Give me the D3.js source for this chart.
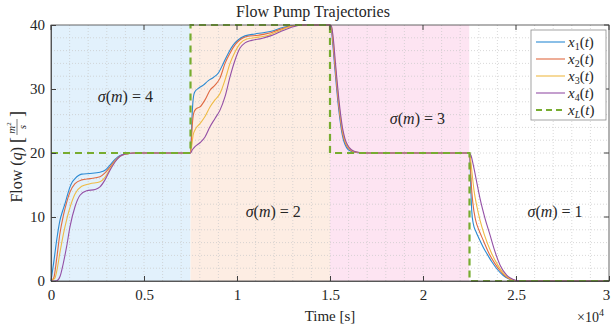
<!DOCTYPE html>
<html>
<head>
<meta charset="utf-8">
<script src="https://cdn.jsdelivr.net/npm/d3@7"></script>
<style>
  body { margin: 0; background: #fff; }
  svg text { font-family: "Liberation Serif", "DejaVu Serif", serif; fill: #262626; }
</style>
</head>
<body>
<div id="chart"></div>
<script>
// time in seconds, flow in m^2/s
const x1Pts = [[0,0],[150,3],[306,6.4],[484,9.5],[620,10.9],[753,12.1],[890,13.5],[1022,14.7],[1150,15.5],[1290,16.0],[1649,16.7],[2097,16.8],[2634,17.0],[2903,17.3],[3172,18.1],[3441,19.0],[3710,19.6],[4068,19.85],[4500,20],
  [7500,20],[7530,21.5],[7580,25.5],[7640,28.3],[7720,29.5],[7920,30.1],[8190,30.6],[8459,31.3],[8728,31.8],[8997,32.5],[9265,34.0],[9534,35.6],[9803,36.9],[10072,37.7],[10430,38.3],[10968,38.6],[11415,38.8],[11952,39.1],[12312,39.5],[12849,39.85],[13300,40],
  [15000,40],[15050,39.8],[15150,37],[15250,33.5],[15350,30.3],[15450,27.3],[15550,24.9],[15650,23.0],[15750,21.8],[15900,20.8],[16100,20.3],[16400,20.1],[16800,20],
  [22500,20],[22530,18.5],[22570,14.5],[22620,11],[22700,9.0],[22850,7.7],[23050,6.4],[23250,5.2],[23450,4.2],[23700,3.0],[24000,1.8],[24300,0.9],[24600,0.35],[24900,0.08],[25200,0],[30000,0]];

const x2Pts = [[0,0],[150,0.5],[306,3.5],[484,7.5],[663,10.2],[842,12.3],[1022,13.9],[1290,15.2],[1649,15.8],[2097,16.0],[2634,16.3],[2903,16.9],[3172,17.8],[3441,18.8],[3710,19.5],[4068,19.85],[4500,20],
  [7500,20],[7540,21.5],[7600,24.5],[7680,26.3],[7800,26.9],[8011,27.2],[8280,28.3],[8548,29.8],[8817,30.6],[9086,31.7],[9355,34.0],[9624,35.6],[9892,36.9],[10161,37.7],[10520,38.2],[11147,38.4],[11700,38.7],[12200,39.2],[12800,39.75],[13400,40],
  [15000,40],[15060,39.8],[15160,37.3],[15260,33.9],[15360,30.7],[15460,27.7],[15560,25.3],[15660,23.3],[15770,22.0],[15920,21.0],[16120,20.4],[16420,20.12],[16850,20],
  [22500,20],[22540,18.5],[22600,15],[22680,12.2],[22830,9.5],[23000,8.0],[23250,6.3],[23550,4.3],[23850,2.8],[24150,1.6],[24450,0.7],[24750,0.2],[25100,0],[30000,0]];

const x3Pts = [[0,0],[200,0.4],[306,1.5],[484,4.5],[663,7.3],[842,9.6],[1022,11.5],[1290,13.6],[1649,14.8],[2097,15.2],[2634,15.5],[2903,16.2],[3172,17.5],[3441,18.7],[3710,19.5],[4068,19.85],[4500,20],
  [7500,20],[7560,21],[7640,22.8],[7742,23.6],[8011,24.6],[8280,25.7],[8548,27.2],[8817,28.3],[9086,29.3],[9355,31.4],[9624,34.0],[9892,35.8],[10161,37.1],[10520,37.8],[11147,38.1],[11700,38.4],[12200,39.0],[12800,39.7],[13400,40],
  [15000,40],[15070,39.8],[15170,37.6],[15270,34.2],[15370,31.0],[15470,28.0],[15570,25.5],[15670,23.5],[15785,22.1],[15935,21.1],[16135,20.45],[16435,20.13],[16870,20],
  [22500,20],[22560,19],[22650,16.5],[22750,14],[22900,11.6],[23065,9.5],[23300,7.2],[23690,4.3],[24000,2.6],[24300,1.3],[24600,0.5],[24900,0.12],[25200,0],[30000,0]];

const x4Pts = [[0,0],[306,0.05],[484,0.7],[663,2.8],[842,5.4],[1022,8.5],[1290,11.6],[1559,13.4],[1917,14.1],[2366,14.3],[2634,14.7],[2903,15.8],[3172,17.3],[3441,18.6],[3710,19.5],[4068,19.9],[4500,20],
  [7500,20],[7600,20.5],[7742,21.0],[8011,21.6],[8280,22.5],[8548,24.1],[8817,25.4],[9086,26.7],[9355,28.8],[9624,31.9],[9892,34.5],[10161,36.4],[10430,37.2],[10790,37.6],[11327,37.9],[11800,38.3],[12300,38.9],[12900,39.6],[13500,40],
  [15000,40],[15080,39.8],[15180,37.8],[15280,34.5],[15380,31.3],[15480,28.3],[15580,25.8],[15680,23.8],[15800,22.3],[15950,21.2],[16150,20.5],[16450,20.15],[16900,20],
  [22500,20],[22580,19.6],[22705,18.1],[22885,15.5],[23065,12.9],[23333,9.8],[23602,7.2],[23835,4.9],[24140,2.5],[24498,0.9],[24856,0.25],[25200,0.02],[25500,0],[30000,0]];

// reference trajectory
const xLPts = [[0,20],[7500,20],[7500,40],[15000,40],[15000,20],[22500,20],[22500,0],[30000,0]];

// operating modes
const modeStarts = [0, 7500, 15000, 22500];
const modeEnds = [7500, 15000, 22500, 30000];
const modeLabels = ["4", "2", "3", "1"];
const modeLabelT = [4000, 11950, 19700, 27100];
const modeLabelY = [28, 10, 24.6, 10];
const modeColors = ["#e2f1fc", "#fdede3", "#fde4f2", "#ffffff"];

const xTicks = [0, 5000, 10000, 15000, 20000, 25000, 30000];
const xTickLabels = ["0", "0.5", "1", "1.5", "2", "2.5", "3"];
const yTicks = [0, 10, 20, 30, 40];

const seriesNames = ["1", "2", "3", "4"];
const seriesColors = ["#2b8ad3", "#e06a43", "#efbb45", "#9450a6"];
const refColor = "#77ac30";

const width = 611, height = 331;
const margin = { top: 25, right: 2, bottom: 50, left: 51 };

const svg = d3.select("#chart").append("svg")
  .attr("width", width).attr("height", height);

const x = d3.scaleLinear().domain([0, 30000]).range([margin.left, width - margin.right]);
const y = d3.scaleLinear().domain([0, 40]).range([height - margin.bottom, margin.top]);

// mode backgrounds
svg.selectAll("rect.mode")
  .data(modeStarts)
  .enter().append("rect")
  .attr("x", (d) => x(d))
  .attr("y", y(40))
  .attr("width", (d, i) => x(modeEnds[i]) - x(d))
  .attr("height", y(0) - y(40))
  .attr("fill", (d, i) => modeColors[i]);

// grid (minor every 0.1e4 / 2 units)
const grid = svg.append("g").attr("stroke", "#c8c8c8").attr("stroke-width", 0.7).attr("stroke-dasharray", "1,2");
grid.selectAll("line.gx").data(d3.range(1000, 30000, 1000)).enter().append("line")
  .attr("x1", (d) => x(d)).attr("x2", (d) => x(d)).attr("y1", y(0)).attr("y2", y(40));
grid.selectAll("line.gy").data(d3.range(2, 40, 2)).enter().append("line")
  .attr("x1", x(0)).attr("x2", x(30000)).attr("y1", (d) => y(d)).attr("y2", (d) => y(d));

const line = d3.line()
  .x((d) => x(d[0]))
  .y((d) => y(d[1]))
  .curve(d3.curveMonotoneX);

const plotG = svg.append("g");
[x1Pts, x2Pts, x3Pts, x4Pts].forEach((pts, i) => {
  plotG.append("path")
    .attr("d", line(pts))
    .attr("fill", "none")
    .attr("stroke", seriesColors[i])
    .attr("stroke-width", 1.1);
});

plotG.append("path")
  .attr("d", d3.line().x((d) => x(d[0])).y((d) => y(d[1]))(xLPts))
  .attr("fill", "none")
  .attr("stroke", refColor)
  .attr("stroke-width", 2.2)
  .attr("stroke-dasharray", "7,5");

// axes box
const axisColor = "#404040";
svg.append("rect")
  .attr("x", x(0)).attr("y", y(40))
  .attr("width", x(30000) - x(0)).attr("height", y(0) - y(40))
  .attr("fill", "none").attr("stroke", axisColor).attr("stroke-width", 0.8);

const xAxis = svg.append("g")
  .attr("transform", `translate(0,${y(0)})`)
  .call(d3.axisBottom(x).tickValues(xTicks).tickSizeInner(-5).tickSizeOuter(0).tickPadding(8)
    .tickFormat((d, i) => xTickLabels[i]));
const yAxis = svg.append("g")
  .attr("transform", `translate(${x(0)},0)`)
  .call(d3.axisLeft(y).tickValues(yTicks).tickSizeInner(-5).tickSizeOuter(0).tickPadding(6));
[xAxis, yAxis].forEach((g) => {
  g.select(".domain").attr("stroke", axisColor).attr("stroke-width", 0.8);
  g.selectAll(".tick line").attr("stroke", axisColor);
  g.selectAll(".tick text").style("font-size", "15px").attr("fill", "#262626")
    .style("font-family", "'Liberation Serif', serif");
});
// keep the last x label inside the window
xAxis.selectAll(".tick text").filter((d) => d === 30000).attr("dx", "-0.2em");

// mirrored ticks on top and right
svg.append("g").selectAll("line").data(xTicks).enter().append("line")
  .attr("x1", (d) => x(d)).attr("x2", (d) => x(d)).attr("y1", y(40)).attr("y2", y(40) + 5)
  .attr("stroke", axisColor);
svg.append("g").selectAll("line").data(yTicks).enter().append("line")
  .attr("x1", x(30000)).attr("x2", x(30000) - 5).attr("y1", (d) => y(d)).attr("y2", (d) => y(d))
  .attr("stroke", axisColor);

// title and axis labels
svg.append("text").attr("x", 313).attr("y", 17).attr("text-anchor", "middle")
  .style("font-size", "16px").text("Flow Pump Trajectories");

svg.append("text").attr("x", x(15000)).attr("y", 321).attr("text-anchor", "middle")
  .style("font-size", "15px").text("Time [s]");

const mult = svg.append("text").attr("x", 577).attr("y", 322).style("font-size", "14px");
mult.append("tspan").text("×10");
mult.append("tspan").attr("dy", -6).style("font-size", "10px").text("4");

// y label with fraction
const yl = svg.append("g").attr("transform", "translate(17,153) rotate(-90)");
const ylt = yl.append("text").attr("x", 6).attr("y", 5).attr("text-anchor", "end").style("font-size", "16px");
ylt.append("tspan").text("Flow (");
ylt.append("tspan").style("font-style", "italic").text("q");
ylt.append("tspan").text(")");
yl.append("text").attr("x", 10).attr("y", 6).style("font-size", "18px").text("[");
const num = yl.append("text").attr("x", 25).attr("y", -2).attr("text-anchor", "middle")
  .style("font-size", "11px").style("font-style", "italic");
num.append("tspan").text("m");
num.append("tspan").attr("dy", -4).style("font-size", "7px").style("font-style", "normal").text("2");
yl.append("line").attr("x1", 18).attr("x2", 34).attr("y1", 0).attr("y2", 0)
  .attr("stroke", "#262626").attr("stroke-width", 0.6);
yl.append("text").attr("x", 26).attr("y", 9).attr("text-anchor", "middle")
  .style("font-size", "11px").style("font-style", "italic").text("s");
yl.append("text").attr("x", 36).attr("y", 6).style("font-size", "18px").text("]");

// mode annotations
modeStarts.forEach((s, i) => {
  const t = svg.append("text")
    .attr("x", x(modeLabelT[i]))
    .attr("y", y(modeLabelY[i]))
    .attr("text-anchor", "middle")
    .style("font-size", "16px");
  t.append("tspan").style("font-style", "italic").text("σ");
  t.append("tspan").text("(");
  t.append("tspan").style("font-style", "italic").text("m");
  t.append("tspan").text(") = " + modeLabels[i]);
});

// legend
const lg = svg.append("g").attr("transform", "translate(531,30)");
lg.append("rect").attr("width", 75).attr("height", 90)
  .attr("fill", "#fff").attr("stroke", "#8c8c8c").attr("stroke-width", 0.8);
const legendItems = seriesNames.map((n, i) => ({ sub: n, color: seriesColors[i], dash: null }))
  .concat([{ sub: "L", color: refColor, dash: "6,4" }]);
legendItems.forEach((item, i) => {
  const ry = 12 + i * 17;
  lg.append("line").attr("x1", 5).attr("x2", 34).attr("y1", ry).attr("y2", ry)
    .attr("stroke", item.color)
    .attr("stroke-width", item.dash ? 2.2 : 1.1)
    .attr("stroke-dasharray", item.dash);
  const t = lg.append("text").attr("x", 37).attr("y", ry + 5).style("font-size", "15px");
  t.append("tspan").style("font-style", "italic").text("x");
  t.append("tspan").attr("dy", 3).style("font-size", "10px").style("font-style", item.sub === "L" ? "italic" : "normal").text(item.sub);
  t.append("tspan").attr("dy", -3).text("(");
  t.append("tspan").style("font-style", "italic").text("t");
  t.append("tspan").text(")");
});
</script>
</body>
</html>
